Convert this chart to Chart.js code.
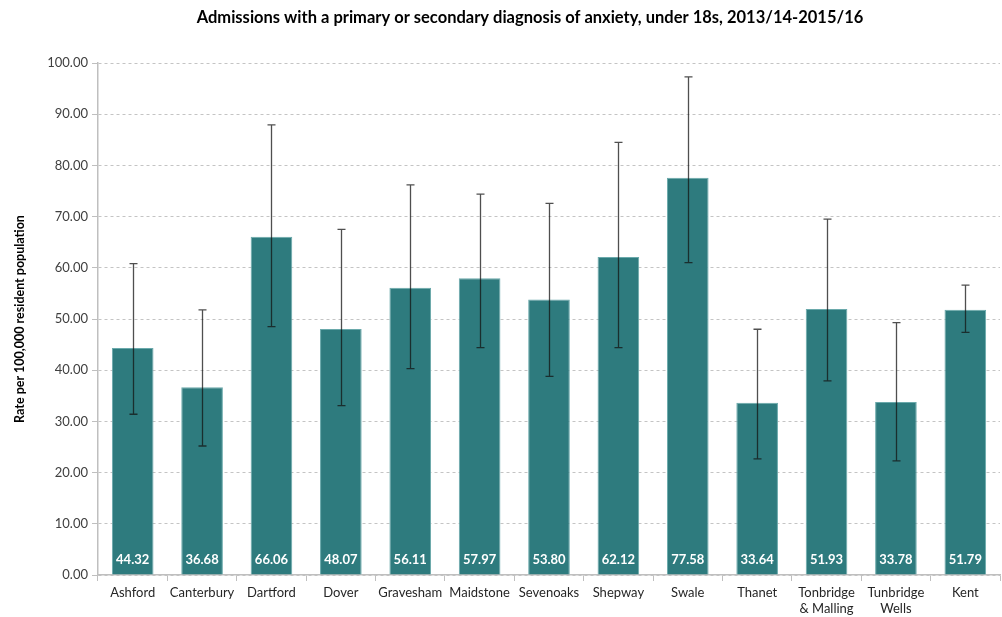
<!DOCTYPE html>
<html>
<head>
<meta charset="utf-8">
<script src="https://cdn.jsdelivr.net/npm/chart.js@4/dist/chart.umd.min.js"></script>
<style>
  html, body { margin: 0; padding: 0; background: #fff; }
  #wrap { width: 1002px; height: 617px; position: relative; }
</style>
</head>
<body>
<div id="wrap"><canvas id="c" width="1002" height="617"></canvas></div>
<script>
// Admissions rate per 100,000 (under 18s), with 95% confidence limits
const areas = ['Ashford', 'Canterbury', 'Dartford', 'Dover', 'Gravesham', 'Maidstone', 'Sevenoaks',
  'Shepway', 'Swale', 'Thanet', ['Tonbridge', '& Malling'], ['Tunbridge', 'Wells'], 'Kent'];
const rates = [44.32, 36.68, 66.06, 48.07, 56.11, 57.97, 53.80, 62.12, 77.58, 33.64, 51.93, 33.78, 51.79];
const lowerCI = [31.4, 25.2, 48.5, 33.1, 40.3, 44.4, 38.8, 44.4, 61.0, 22.7, 37.9, 22.3, 47.4];
const upperCI = [60.8, 51.8, 87.9, 67.5, 76.2, 74.4, 72.6, 84.5, 97.3, 48.0, 69.5, 49.3, 56.6];
const yTicks = [0, 10, 20, 30, 40, 50, 60, 70, 80, 90, 100];

const FONT = 'Lato, "Open Sans", sans-serif';

// Confidence interval whiskers drawn over the bars
const whiskers = {
  id: 'whiskers',
  afterDatasetsDraw(chart) {
    const ctx = chart.ctx, x = chart.scales.x, y = chart.scales.y;
    ctx.save();
    ctx.strokeStyle = 'rgba(20,20,20,0.75)';
    ctx.lineWidth = 1.3;
    rates.forEach((v, i) => {
      const px = Math.round(x.getPixelForValue(i)) + 0.5;
      const lo = y.getPixelForValue(lowerCI[i]);
      const hi = y.getPixelForValue(upperCI[i]);
      ctx.beginPath();
      ctx.moveTo(px, lo); ctx.lineTo(px, hi);
      ctx.moveTo(px - 4, lo); ctx.lineTo(px + 4, lo);
      ctx.moveTo(px - 4, hi); ctx.lineTo(px + 4, hi);
      ctx.stroke();
    });
    ctx.restore();
  }
};

// Value labels at the foot of each bar
const valueLabels = {
  id: 'valueLabels',
  afterDatasetsDraw(chart) {
    const ctx = chart.ctx, x = chart.scales.x, y = chart.scales.y;
    ctx.save();
    ctx.fillStyle = '#ffffff';
    ctx.font = 'bold 13px ' + FONT;
    ctx.textAlign = 'center';
    ctx.textBaseline = 'middle';
    rates.forEach((v, i) => {
      ctx.fillText(v.toFixed(2), x.getPixelForValue(i), y.getPixelForValue(0) - 15);
    });
    ctx.restore();
  }
};

// Chart heading
const heading = {
  id: 'heading',
  afterDraw(chart) {
    const ctx = chart.ctx;
    ctx.save();
    ctx.fillStyle = '#000';
    ctx.font = 'bold 16.5px ' + FONT;
    ctx.textAlign = 'center';
    ctx.textBaseline = 'middle';
    ctx.fillText('Admissions with a primary or secondary diagnosis of anxiety, under 18s, 2013/14-2015/16', 530, 18);
    ctx.restore();
  }
};

new Chart(document.getElementById('c'), {
  type: 'bar',
  data: {
    labels: areas,
    datasets: [{
      data: rates,
      backgroundColor: '#2e7b7e',
      borderColor: '#6aa9ab',
      borderWidth: 1,
      barPercentage: 0.6,
      categoryPercentage: 1.0
    }]
  },
  options: {
    responsive: false,
    animation: false,
    layout: { padding: { top: 63, right: 2, left: 12, bottom: 0 } },
    plugins: { legend: { display: false }, tooltip: { enabled: false }, title: { display: false } },
    scales: {
      x: {
        offset: true,
        grid: { offset: true, drawOnChartArea: false, tickLength: 6, color: '#bfbfbf', tickColor: '#bfbfbf' },
        border: { color: '#bfbfbf', width: 1.5 },
        ticks: { color: '#262626', font: { family: FONT, size: 13 }, padding: 4, maxRotation: 0, autoSkip: false },
        afterFit(s) { s.height = 42; }
      },
      y: {
        min: 0, max: 100,
        afterBuildTicks(s) { s.ticks = yTicks.map(v => ({ value: v })); },
        grid: { color: '#c4c4c4', tickLength: 6, tickColor: '#bfbfbf', tickBorderDash: [] },
        border: { color: '#bfbfbf', width: 1.5, dash: [3, 3] },
        ticks: { color: '#404040', font: { family: FONT, size: 13 }, padding: 4, callback: v => v.toFixed(2) },
        title: { display: true, text: 'Rate per 100,000 resident population', color: '#000', font: { family: FONT, size: 12.5, weight: 'bold' }, padding: { top: 0, bottom: 12 } },
        afterFit(s) { s.width = 86; }
      }
    }
  },
  plugins: [whiskers, valueLabels, heading]
});
</script>
</body>
</html>
